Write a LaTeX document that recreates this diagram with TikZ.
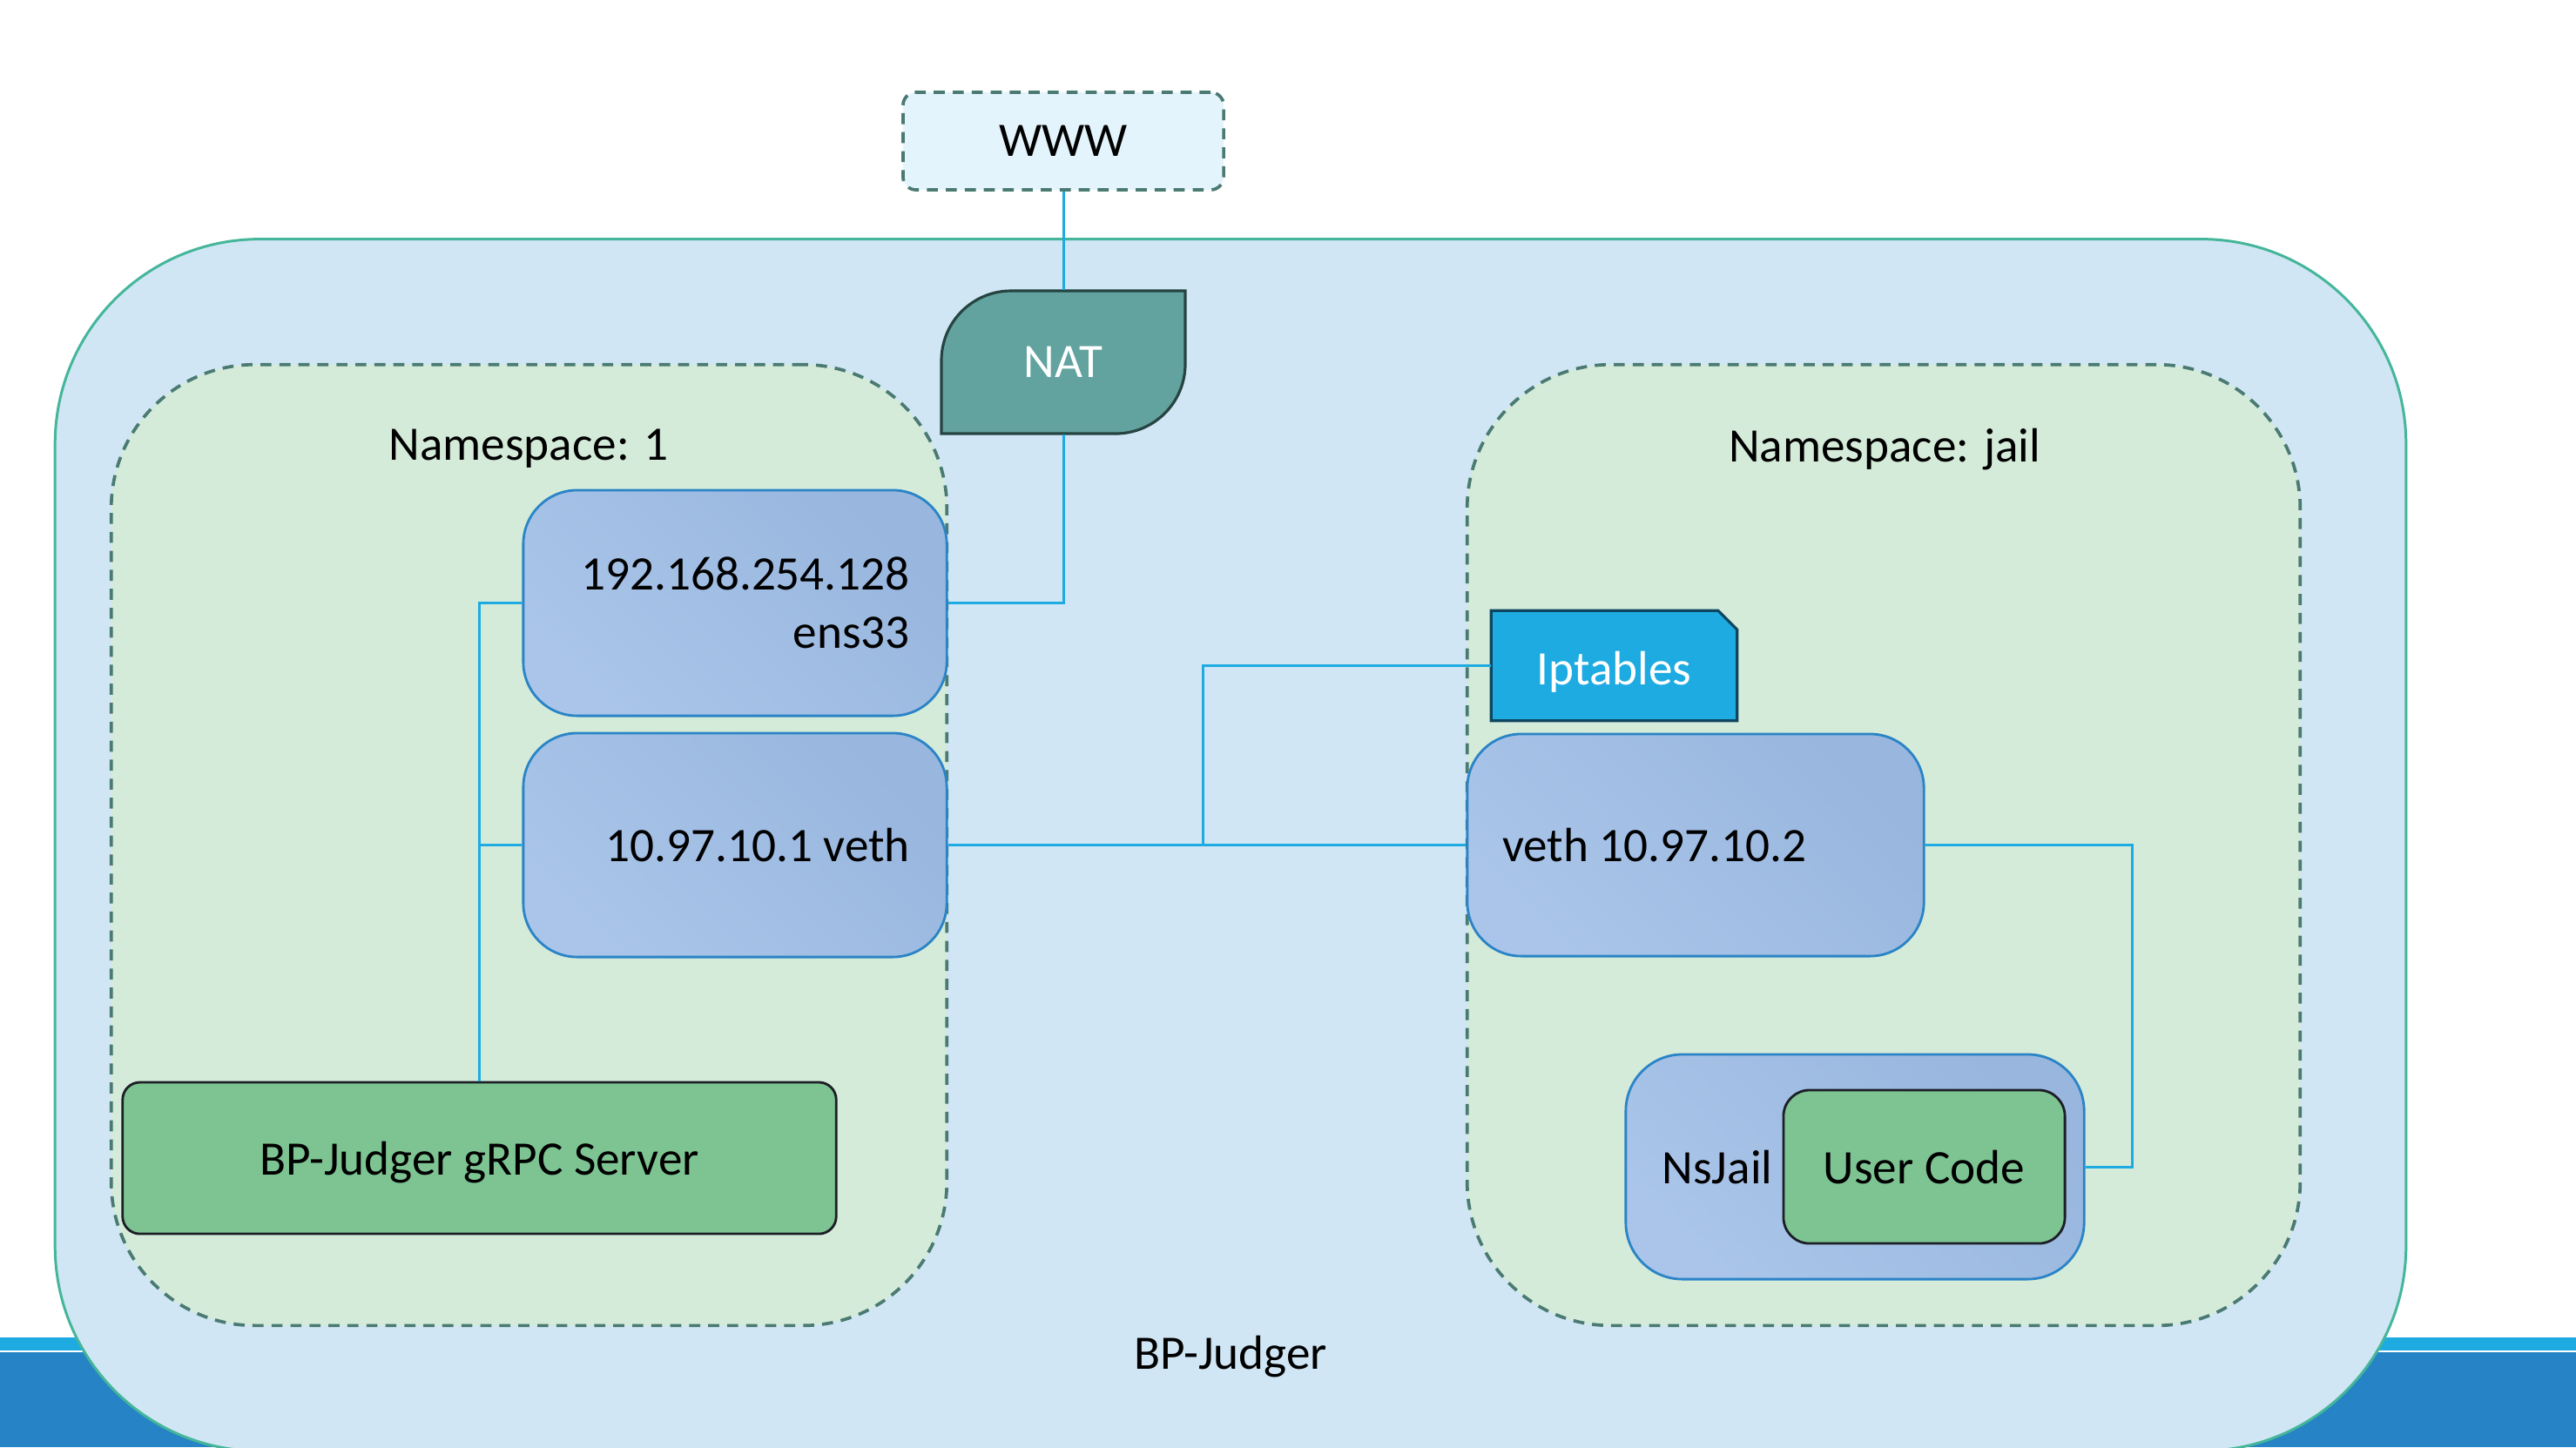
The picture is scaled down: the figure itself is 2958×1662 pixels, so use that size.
\documentclass[tikz,border=0pt]{standalone}
\usepackage{fontspec}
\setmainfont{Carlito}
\definecolor{linec}{HTML}{1EABE2}
\definecolor{outerb}{HTML}{45B69A}
\definecolor{outerf}{HTML}{D0E6F4}
\definecolor{bandl}{HTML}{1EABE2}
\definecolor{bandd}{HTML}{2683C6}
\definecolor{nsb}{HTML}{4A7A72}
\definecolor{nsf}{HTML}{D4EBDA}
\definecolor{boxb}{HTML}{2A84C6}
\definecolor{boxl}{HTML}{AAC5E9}
\definecolor{boxr}{HTML}{98B6DE}
\definecolor{greenf}{HTML}{7DC492}
\definecolor{darkb}{HTML}{1C1F26}
\definecolor{natf}{HTML}{62A39F}
\definecolor{natb}{HTML}{264441}
\definecolor{iptb}{HTML}{0E4660}
\definecolor{wwwf}{HTML}{E4F4FC}
\begin{document}
\begin{tikzpicture}[x=0.01cm,y=-0.01cm,
  every node/.style={font={\fontsize{15.7}{19}\selectfont}, inner sep=0pt, text depth=0pt},
  region/.style={draw=nsb, line width=1.05pt, dash pattern=on 3.6pt off 2.6pt, fill=nsf, rounded corners=1.65cm},
  ifbox/.style={draw=boxb, line width=0.8pt, left color=boxl, right color=boxr, shading angle=135, rounded corners=0.62cm},
  greenbox/.style={draw=darkb, line width=0.8pt, fill=greenf},
  conn/.style={draw=linec, line width=0.85pt}]
\useasboundingbox (0,0) rectangle (2958,1662);
\begin{scope}
\clip (0,0) rectangle (2958,1662);
% bottom bands
\fill[bandl] (0,1536) rectangle (2958,1551);
\fill[bandd] (0,1553) rectangle (2958,1662);
% outer container
\node[draw=outerb, line width=0.85pt, fill=outerf, rounded corners=2.35cm,
  minimum width=26.98cm, minimum height=13.91cm] (outer) at (1413,970.5) {};
\end{scope}
\node (bplabel) at (1413,1553) {BP-Judger};
% namespaces
\node[region, minimum width=9.59cm, minimum height=11.03cm] (ns1) at (607.5,970.5) {};
\node[region, minimum width=9.56cm, minimum height=11.03cm] (nsj) at (2163,970.5) {};
\node (ns1l) at (607,511) {Namespace: 1};
\node (nsjl) at (2164,511) {Namespace: jail};
% WWW
\node[draw=nsb, line width=1.05pt, dash pattern=on 3.6pt off 2.6pt, fill=wwwf, rounded corners=0.15cm,
  minimum width=3.68cm, minimum height=1.12cm] (www) at (1221,162) {WWW};
% NAT
\node[minimum width=2.80cm, minimum height=1.64cm] (nat) at (1221,416) {};
\draw[draw=natb, fill=natf, line width=0.9pt]
  (1081,414) .. controls (1081,369.8) and (1116.8,334) .. (1161,334)
  -- (1361,334) -- (1361,418)
  .. controls (1361,462.2) and (1325.2,498) .. (1281,498)
  -- (1081,498) -- cycle;
\node[text=white] (natl) at (nat.center) {NAT};
% interface boxes
\node[ifbox, minimum width=4.86cm, minimum height=2.59cm] (ens) at (844,692.5) {};
\node[anchor=east, align=right] (ensl) at ([xshift=-0.43cm]ens.east) {192.168.254.128\\ens33};
\node[ifbox, minimum width=4.86cm, minimum height=2.57cm] (veth1) at (844,970.5) {};
\node[anchor=east] (veth1l) at ([xshift=-0.43cm]veth1.east) {10.97.10.1 veth};
\node[ifbox, minimum width=5.24cm, minimum height=2.55cm] (veth2) at (1947,970.5) {};
\node[anchor=west] (veth2l) at ([xshift=0.41cm]veth2.west) {veth 10.97.10.2};
% iptables
\node[minimum width=2.81cm, minimum height=1.25cm] (ipt) at (1853.5,764.5) {};
\draw[draw=iptb, fill=linec, line width=0.9pt]
  (ipt.south west) -- (ipt.north west) -- ([xshift=-0.22cm]ipt.north east)
  -- ([yshift=-0.22cm]ipt.north east) -- (ipt.south east) -- cycle;
\node[text=white] (iptl) at ([yshift=-0.03cm]ipt.center) {Iptables};
% NsJail
\node[ifbox, rounded corners=0.65cm, minimum width=5.26cm, minimum height=2.58cm] (nsjail) at (2130,1340) {};
\node (nsjaill) at (1972,1340) {NsJail};
\node[greenbox, rounded corners=0.30cm, minimum width=3.23cm, minimum height=1.76cm] (user) at (2209.5,1340) {User Code};
% gRPC server
\node[greenbox, rounded corners=0.20cm, minimum width=8.19cm, minimum height=1.74cm] (grpc) at (550.5,1330) {BP-Judger gRPC Server};
% connectors
\coordinate (j) at (1381,970.5);
\coordinate (rr) at (2448,970.5);
\draw[conn] (www.south) -- (nat.north);
\draw[conn] (nat.south) |- (ens.east);
\draw[conn] (ens.west) -| (grpc.north);
\draw[conn] (veth1.west) -- (veth1.west -| grpc.north);
\draw[conn] (veth1.east) -- (veth2.west);
\draw[conn] (j) |- (ipt.west);
\draw[conn] (veth2.east) -- (rr) |- (nsjail.east);
\end{tikzpicture}
\end{document}
